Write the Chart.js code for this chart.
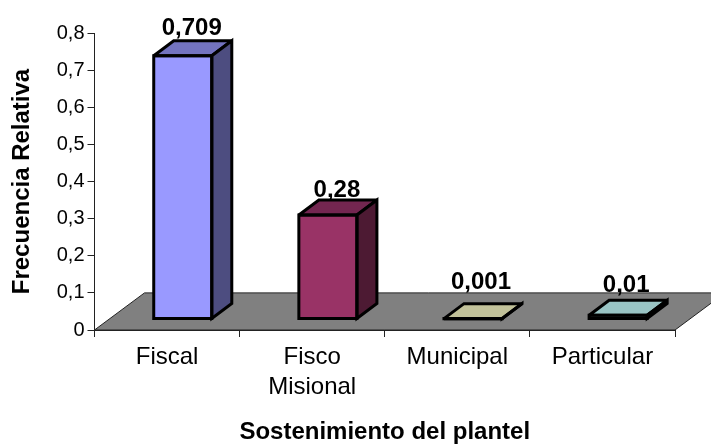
<!DOCTYPE html>
<html>
<head>
<meta charset="utf-8">
<title>Sostenimiento del plantel</title>
<script src="https://cdn.jsdelivr.net/npm/chart.js@4"></script>
<style>
  html, body { margin: 0; padding: 0; background: #fff; }
  #wrap { width: 711px; height: 444px; }
</style>
</head>
<body>
<div id="wrap"><canvas id="chart" width="711" height="444"></canvas></div>
<script>
const categories = [['Fiscal'], ['Fisco', 'Misional'], ['Municipal'], ['Particular']];
const frecuencia = [0.709, 0.28, 0.001, 0.01];
const valueLabels = ['0,709', '0,28', '0,001', '0,01'];
const yTicks = ['0', '0,1', '0,2', '0,3', '0,4', '0,5', '0,6', '0,7', '0,8'];

const frontColors = ['#9999ff', '#993366', '#c2c29a', '#99c4c4'];
const topColors = ['#7373bf', '#732650', '#c2c29a', '#99c4c4'];
const sideColors = ['#4d4d80', '#4d1a33', '#61614d', '#4d7070'];

// depth of the fake 3d, in px
const depthX = 20, depthY = 15;
// the bars stand a bit inside the floor
const shiftX = 15.7, shiftY = -11;
// label nudges
const labelDx = [9, 9, 8, 8];
const labelBase = [35, 197, 289, 292];

const font = 'Liberation Sans, Arial, sans-serif';

const poly = (ctx, pts, fill) => {
  ctx.beginPath();
  pts.forEach((p, i) => i ? ctx.lineTo(p[0], p[1]) : ctx.moveTo(p[0], p[1]));
  ctx.closePath();
  if (fill) {
    ctx.fillStyle = fill;
    ctx.fill();
  }
  ctx.stroke();
};

const fake3d = {
  id: 'fake3d',
  beforeDatasetsDraw(chart) {
    const ctx = chart.ctx, y = chart.scales.y, a = chart.chartArea;
    // floor
    const front = y.getPixelForValue(0), back = y.getPixelForValue(0.1);
    const dx = 50;
    ctx.save();
    ctx.strokeStyle = '#222';
    ctx.lineWidth = 1;
    poly(ctx, [[a.left, front], [a.left + dx, back], [a.right + dx, back], [a.right, front]], '#808080');
    ctx.restore();

    ctx.save();
    ctx.translate(shiftX, shiftY);
  },
  afterDatasetsDraw(chart) {
    const ctx = chart.ctx;
    ctx.strokeStyle = '#000';
    ctx.lineWidth = 3;
    ctx.lineJoin = 'miter';
    ctx.miterLimit = 3;
    chart.getDatasetMeta(0).data.forEach((bar, i) => {
      const p = bar.getProps(['x', 'y', 'base', 'width'], true);
      const l = p.x - p.width / 2, r = p.x + p.width / 2;
      poly(ctx, [[l, p.y], [l + depthX, p.y - depthY], [r + depthX, p.y - depthY], [r, p.y]], topColors[i]);
      poly(ctx, [[r, p.y], [r + depthX, p.y - depthY], [r + depthX, p.base - depthY], [r, p.base]], sideColors[i]);
      // front outline goes on top so it sits right on the value
      poly(ctx, [[l, p.y], [r, p.y], [r, p.base], [l, p.base]]);
    });
    ctx.restore();

    ctx.save();
    ctx.font = 'bold 24px ' + font;
    ctx.fillStyle = '#000';
    ctx.textAlign = 'center';
    ctx.textBaseline = 'alphabetic';
    chart.getDatasetMeta(0).data.forEach((bar, i) => {
      ctx.fillText(valueLabels[i], bar.x + shiftX + labelDx[i], labelBase[i]);
    });
    ctx.restore();
  }
};

new Chart(document.getElementById('chart'), {
  type: 'bar',
  data: {
    labels: categories,
    datasets: [{
      data: frecuencia,
      backgroundColor: frontColors,
      borderWidth: 0,
      barPercentage: 0.4,
      categoryPercentage: 1,
      clip: false
    }]
  },
  plugins: [fake3d],
  options: {
    responsive: false,
    animation: false,
    layout: { padding: { top: 33, right: 36, left: 0, bottom: 0 } },
    plugins: { legend: { display: false }, tooltip: { enabled: false } },
    scales: {
      x: {
        afterFit: s => { s.height = 114; },
        grid: { drawOnChartArea: false, drawTicks: true, tickLength: 7, offset: true, color: '#222' },
        border: { color: '#222' },
        ticks: { color: '#000', maxRotation: 0, padding: 5, font: { family: font, size: 24, lineHeight: 1.27 } },
        title: {
          display: true,
          text: 'Sostenimiento del plantel',
          color: '#000',
          font: { family: font, size: 24, weight: 'bold', lineHeight: 1 },
          padding: { top: 0, bottom: 0 }
        }
      },
      y: {
        min: 0,
        max: 0.8,
        afterFit: s => { s.width = 94.5; },
        afterBuildTicks: s => {
          s.ticks = yTicks.map((t, i) => ({ value: i / 10 }));
        },
        grid: { drawOnChartArea: false, drawTicks: true, tickLength: 7, color: '#222' },
        border: { color: '#222' },
        ticks: {
          color: '#000',
          padding: 3,
          font: { family: font, size: 20 },
          callback: (v, i) => yTicks[i]
        },
        title: {
          display: true,
          text: 'Frecuencia Relativa',
          color: '#000',
          font: { family: font, size: 24, weight: 'bold' },
          padding: { top: 8, bottom: 0 }
        }
      }
    }
  }
});
</script>
</body>
</html>
